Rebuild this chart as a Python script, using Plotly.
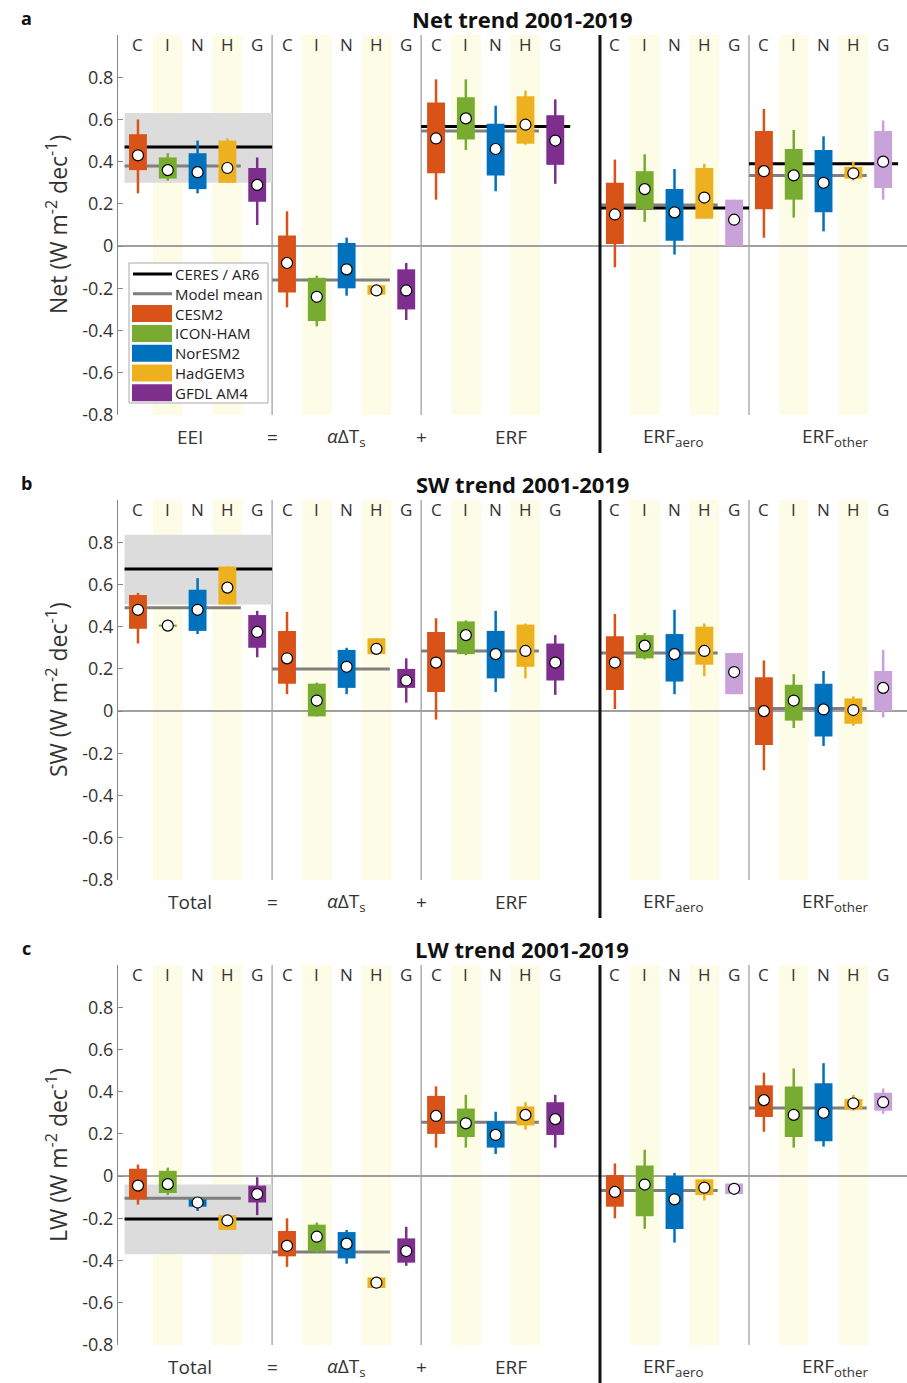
import plotly.graph_objects as go

W, H = 907, 1383

MODELS = ["CESM2", "ICON-HAM", "NorESM2", "HadGEM3", "GFDL AM4"]
LETTERS = ["C", "I", "N", "H", "G"]
MODEL_COLORS = ["#D95319", "#77AC30", "#0072BD", "#EDB120", "#7E2F8E"]
GFDL_LIGHT = "#C9A2D9"
LIGHT_GFDL_GROUPS = [3, 4]
GROUP_START = [0, 5, 10, 16, 21]
THIN_SEPS = [4.5, 9.5, 20.5]
THICK_SEP = 15.5
XMIN, XMAX = -0.67, 25.8
YMIN, YMAX = -0.8, 1.0
YTICKS = [-0.8, -0.6, -0.4, -0.2, 0, 0.2, 0.4, 0.6, 0.8]
YTICKTEXT = ["-0.8", "-0.6", "-0.4", "-0.2", "0", "0.2", "0.4", "0.6", "0.8"]

LABEL_X = [1.75, 4.5, 7.0, 9.5, 12.5, 17.95, 23.4]
LABELS_A = ["EEI", "=", "<i>α</i>ΔT<sub>s</sub>", "+", "ERF", "ERF<sub>aero</sub>", "ERF<sub>other</sub>"]
LABELS_BC = ["Total", "=", "<i>α</i>ΔT<sub>s</sub>", "+", "ERF", "ERF<sub>aero</sub>", "ERF<sub>other</sub>"]

# ---------------- Panel a : Net ----------------
# rows: EEI, alphaDTs, ERF, ERF_aero, ERF_other ; columns: C, I, N, H, G
NET_WLO = [[0.25, 0.31, 0.25, 0.30, 0.10],
           [-0.29, -0.38, -0.235, -0.23, -0.35],
           [0.22, 0.455, 0.26, 0.48, 0.295],
           [-0.10, 0.115, -0.04, 0.13, 0.0],
           [0.04, 0.135, 0.07, 0.31, 0.22]]
NET_BLO = [[0.36, 0.32, 0.27, 0.30, 0.21],
           [-0.22, -0.355, -0.20, -0.23, -0.30],
           [0.345, 0.505, 0.335, 0.485, 0.385],
           [0.01, 0.175, 0.025, 0.13, 0.0],
           [0.175, 0.22, 0.16, 0.32, 0.275]]
NET_BHI = [[0.53, 0.42, 0.44, 0.50, 0.37],
           [0.05, -0.15, 0.015, -0.185, -0.11],
           [0.68, 0.705, 0.58, 0.71, 0.62],
           [0.30, 0.355, 0.27, 0.37, 0.22],
           [0.545, 0.46, 0.455, 0.375, 0.545]]
NET_WHI = [[0.60, 0.44, 0.50, 0.51, 0.42],
           [0.165, -0.14, 0.04, -0.185, -0.08],
           [0.79, 0.79, 0.665, 0.737, 0.695],
           [0.41, 0.435, 0.365, 0.39, 0.22],
           [0.65, 0.55, 0.52, 0.40, 0.595]]
NET_DOT = [[0.43, 0.36, 0.35, 0.37, 0.29],
           [-0.08, -0.24, -0.11, -0.21, -0.21],
           [0.51, 0.605, 0.46, 0.575, 0.50],
           [0.15, 0.27, 0.16, 0.23, 0.125],
           [0.355, 0.335, 0.30, 0.345, 0.40]]
NET_MEAN = [0.38, -0.16, 0.545, 0.195, 0.335]
NET_OBS = [0.47, None, 0.567, 0.18, 0.39]
NET_OBS_BAND = [0.30, 0.63]

# ---------------- Panel b : SW ----------------
SW_WLO = [[0.32, 0.395, 0.365, 0.505, 0.255],
          [0.08, -0.025, 0.08, 0.27, 0.04],
          [-0.04, 0.265, 0.09, 0.155, 0.077],
          [0.01, 0.245, 0.08, 0.165, 0.08],
          [-0.28, -0.08, -0.165, -0.07, -0.03]]
SW_BLO = [[0.39, 0.40, 0.38, 0.505, 0.30],
          [0.13, -0.025, 0.11, 0.27, 0.11],
          [0.09, 0.27, 0.155, 0.21, 0.145],
          [0.10, 0.25, 0.14, 0.22, 0.08],
          [-0.16, -0.045, -0.12, -0.06, 0.0]]
SW_BHI = [[0.55, 0.41, 0.575, 0.685, 0.455],
          [0.38, 0.13, 0.29, 0.345, 0.20],
          [0.375, 0.425, 0.38, 0.41, 0.32],
          [0.355, 0.36, 0.365, 0.40, 0.275],
          [0.16, 0.125, 0.13, 0.06, 0.19]]
SW_WHI = [[0.56, 0.41, 0.63, 0.685, 0.475],
          [0.47, 0.135, 0.30, 0.345, 0.25],
          [0.44, 0.43, 0.475, 0.415, 0.36],
          [0.46, 0.37, 0.48, 0.415, 0.275],
          [0.24, 0.175, 0.19, 0.07, 0.29]]
SW_DOT = [[0.48, 0.405, 0.48, 0.585, 0.375],
          [0.25, 0.05, 0.21, 0.295, 0.145],
          [0.23, 0.36, 0.27, 0.285, 0.23],
          [0.23, 0.31, 0.27, 0.285, 0.185],
          [0.0, 0.05, 0.008, 0.005, 0.11]]
SW_MEAN = [0.49, 0.20, 0.285, 0.275, 0.012]
SW_OBS = [0.673, None, None, None, None]
SW_OBS_BAND = [0.505, 0.835]

# ---------------- Panel c : LW ----------------
LW_WLO = [[-0.135, -0.09, -0.165, -0.255, -0.185],
          [-0.43, -0.36, -0.415, -0.53, -0.425],
          [0.135, 0.135, 0.105, 0.22, 0.135],
          [-0.20, -0.25, -0.315, -0.115, -0.085],
          [0.21, 0.135, 0.14, 0.31, 0.295]]
LW_BLO = [[-0.11, -0.08, -0.145, -0.255, -0.125],
          [-0.38, -0.355, -0.39, -0.53, -0.41],
          [0.20, 0.185, 0.135, 0.24, 0.195],
          [-0.145, -0.19, -0.25, -0.09, -0.085],
          [0.28, 0.185, 0.165, 0.315, 0.31]]
LW_BHI = [[0.035, 0.025, -0.11, -0.185, -0.045],
          [-0.26, -0.23, -0.265, -0.48, -0.295],
          [0.38, 0.32, 0.26, 0.33, 0.35],
          [0.005, 0.05, 0.0, -0.015, -0.035],
          [0.43, 0.425, 0.44, 0.365, 0.395]]
LW_WHI = [[0.055, 0.04, -0.105, -0.185, -0.005],
          [-0.20, -0.22, -0.255, -0.48, -0.24],
          [0.425, 0.385, 0.305, 0.35, 0.385],
          [0.06, 0.125, 0.015, -0.013, -0.035],
          [0.49, 0.51, 0.535, 0.385, 0.415]]
LW_DOT = [[-0.045, -0.038, -0.125, -0.21, -0.085],
          [-0.33, -0.287, -0.32, -0.505, -0.355],
          [0.285, 0.25, 0.195, 0.29, 0.27],
          [-0.075, -0.04, -0.11, -0.055, -0.06],
          [0.36, 0.29, 0.30, 0.345, 0.35]]
LW_MEAN = [-0.105, -0.36, 0.255, -0.068, 0.323]
LW_OBS = [-0.203, None, None, None, None]
LW_OBS_BAND = [-0.37, -0.04]

PANELS = [
    dict(letter="a", title="Net trend 2001-2019", ylab="Net (W m<sup>-2</sup> dec<sup>-1</sup>)",
         labels=LABELS_A, wlo=NET_WLO, blo=NET_BLO, bhi=NET_BHI, whi=NET_WHI, dot=NET_DOT,
         mean=NET_MEAN, obs=NET_OBS, band=NET_OBS_BAND),
    dict(letter="b", title="SW trend 2001-2019", ylab="SW (W m<sup>-2</sup> dec<sup>-1</sup>)",
         labels=LABELS_BC, wlo=SW_WLO, blo=SW_BLO, bhi=SW_BHI, whi=SW_WHI, dot=SW_DOT,
         mean=SW_MEAN, obs=SW_OBS, band=SW_OBS_BAND),
    dict(letter="c", title="LW trend 2001-2019", ylab="LW (W m<sup>-2</sup> dec<sup>-1</sup>)",
         labels=LABELS_BC, wlo=LW_WLO, blo=LW_BLO, bhi=LW_BHI, whi=LW_WHI, dot=LW_DOT,
         mean=LW_MEAN, obs=LW_OBS, band=LW_OBS_BAND),
]

# layout geometry (pixels)
PLOT_LEFT_PX = 118
PANEL_TOP_PX = [35, 500, 965]
PANEL_H_PX = 380
FONT = "Open Sans, Noto Sans, sans-serif"
TXT = "#333333"


def px(x):
    return x / W


def py(y):
    return 1 - y / H


def xdom(v):
    return (v - XMIN) / (XMAX - XMIN)


fig = go.Figure()
shapes = []
annotations = []

for p, P in enumerate(PANELS):
    n = "" if p == 0 else str(p + 1)
    xa, ya = "x" + n, "y" + n
    top = PANEL_TOP_PX[p]
    fig.layout["xaxis" + n] = dict(domain=[px(PLOT_LEFT_PX), 1.0], range=[XMIN, XMAX], anchor=ya,
                                   showgrid=False, zeroline=False, showline=False,
                                   showticklabels=False, ticks="", fixedrange=True)
    fig.layout["yaxis" + n] = dict(domain=[py(top + PANEL_H_PX), py(top)], range=[YMIN, YMAX], anchor=xa,
                                   showgrid=False, zeroline=True, zerolinecolor="#A0A0A0", zerolinewidth=1.5,
                                   showline=True, linecolor="#888888", linewidth=1,
                                   ticks="inside", ticklen=5, tickcolor="#888888",
                                   tickvals=YTICKS, ticktext=YTICKTEXT, fixedrange=True,
                                   tickfont=dict(family=FONT, size=18, color=TXT))

    # yellow bands for I and H columns
    for g, s in enumerate(GROUP_START):
        for off in (1, 3):
            shapes.append(dict(type="rect", xref=xa, yref=ya + " domain", x0=s + off - 0.5, x1=s + off + 0.5,
                               y0=0, y1=1, fillcolor="#FDFCE6", line=dict(width=0), layer="below"))
    # observational uncertainty band (group 1)
    shapes.append(dict(type="rect", xref=xa, yref=ya, x0=GROUP_START[0] - 0.45, x1=GROUP_START[0] + 4.5,
                       y0=P["band"][0], y1=P["band"][1], fillcolor="#DCDCDC", line=dict(width=0), layer="below"))
    # separators
    for sx in THIN_SEPS:
        shapes.append(dict(type="line", xref=xa, yref=ya + " domain", x0=sx, x1=sx, y0=0, y1=1,
                           line=dict(color="#9A9A9A", width=1.2), layer="below"))
    shapes.append(dict(type="line", xref=xa + " domain", yref=ya + " domain",
                       x0=xdom(THICK_SEP), x1=xdom(THICK_SEP), y0=-0.1, y1=1,
                       line=dict(color="#111111", width=3), layer="above"))
    # model mean & obs lines
    for g, s in enumerate(GROUP_START):
        x0 = s - 0.45 if g == 0 else s - 0.5
        shapes.append(dict(type="line", xref=xa, yref=ya, x0=x0, x1=s + 3.45,
                           y0=P["mean"][g], y1=P["mean"][g],
                           line=dict(color="#7F7F7F", width=3), layer="between"))
        if P["obs"][g] is not None:
            shapes.append(dict(type="line", xref=xa, yref=ya, x0=x0, x1=s + 4.5,
                               y0=P["obs"][g], y1=P["obs"][g],
                               line=dict(color="#000000", width=3), layer="between"))

    # boxes, whiskers, dots
    bx, by, bb, bc = [], [], [], []
    dx, dy = [], []
    for g, s in enumerate(GROUP_START):
        for m in range(5):
            col = GFDL_LIGHT if (m == 4 and g in LIGHT_GFDL_GROUPS) else MODEL_COLORS[m]
            x = s + m
            fig.add_trace(go.Scatter(x=[x, x], y=[P["wlo"][g][m], P["whi"][g][m]], mode="lines",
                                     line=dict(color=col, width=2.5), xaxis=xa, yaxis=ya,
                                     showlegend=False, hoverinfo="skip"))
            bx.append(x)
            bb.append(P["blo"][g][m])
            by.append(max(P["bhi"][g][m] - P["blo"][g][m], 0.006))
            bc.append(col)
            dx.append(x)
            dy.append(P["dot"][g][m])
    fig.add_trace(go.Bar(x=bx, y=by, base=bb, width=0.6, marker=dict(color=bc, line=dict(width=0)),
                         xaxis=xa, yaxis=ya, showlegend=False))
    fig.add_trace(go.Scatter(x=dx, y=dy, mode="markers",
                             marker=dict(size=11, color="white", line=dict(color="black", width=1.2)),
                             xaxis=xa, yaxis=ya, showlegend=False))

    # column letters
    for s in GROUP_START:
        for m, L in enumerate(LETTERS):
            annotations.append(dict(x=s + m, y=0.976, xref=xa, yref=ya + " domain", text=L,
                                    showarrow=False, font=dict(family=FONT, size=17, color=TXT),
                                    xanchor="center", yanchor="middle"))
    # group labels below
    for lx, lt in zip(LABEL_X, P["labels"]):
        annotations.append(dict(x=lx, y=-0.058, xref=xa, yref=ya + " domain", text=lt,
                                showarrow=False, font=dict(family=FONT, size=19, color=TXT),
                                xanchor="center", yanchor="middle"))
    # y title
    annotations.append(dict(x=px(57), y=0.5, xref="paper", yref=ya + " domain", text=P["ylab"],
                            textangle=-90, showarrow=False, font=dict(family=FONT, size=23, color=TXT),
                            xanchor="center", yanchor="middle"))
    # panel title and letter
    annotations.append(dict(x=px(522), y=py(top - 16), xref="paper", yref="paper",
                            text="<b>" + P["title"] + "</b>", showarrow=False,
                            font=dict(family=FONT, size=22, color="#111111"), xanchor="center", yanchor="middle"))
    annotations.append(dict(x=px(26), y=py(top - 17), xref="paper", yref="paper",
                            text="<b>" + P["letter"] + "</b>", showarrow=False,
                            font=dict(family=FONT, size=18, color="#111111"), xanchor="center", yanchor="middle"))

# ---------------- legend (panel a) ----------------
LEG_LEFT, LEG_RIGHT, LEG_TOP, LEG_BOTTOM = 129, 268, 263, 403
LEG_ROW0, LEG_DY = 274, 19.8
shapes.append(dict(type="rect", xref="paper", yref="paper", x0=px(LEG_LEFT), x1=px(LEG_RIGHT),
                   y0=py(LEG_BOTTOM), y1=py(LEG_TOP), fillcolor="white",
                   line=dict(color="#A8A8A8", width=1), layer="above"))
LEG_NAMES = ["CERES / AR6", "Model mean"] + MODELS
for i, name in enumerate(LEG_NAMES):
    yc = LEG_ROW0 + i * LEG_DY
    if i < 2:
        shapes.append(dict(type="line", xref="paper", yref="paper", x0=px(133), x1=px(172),
                           y0=py(yc), y1=py(yc),
                           line=dict(color="#000000" if i == 0 else "#7F7F7F", width=3), layer="above"))
    else:
        shapes.append(dict(type="rect", xref="paper", yref="paper", x0=px(132), x1=px(172),
                           y0=py(yc + 8.5), y1=py(yc - 8.5), fillcolor=MODEL_COLORS[i - 2],
                           line=dict(width=0), layer="above"))
    annotations.append(dict(x=px(173), y=py(yc), xref="paper", yref="paper", text=name, showarrow=False,
                            font=dict(family=FONT, size=15, color="#222222"), xanchor="left", yanchor="middle"))

fig.update_layout(width=W, height=H, margin=dict(l=0, r=0, t=0, b=0, autoexpand=False),
                  paper_bgcolor="white", plot_bgcolor="white", barmode="overlay",
                  shapes=shapes, annotations=annotations, showlegend=False,
                  hovermode=False, font=dict(family=FONT, color=TXT))

fig.write_html("out.html", config={"displayModeBar": False},
               post_script="document.body.style.margin='0';document.body.style.overflow='hidden';")
